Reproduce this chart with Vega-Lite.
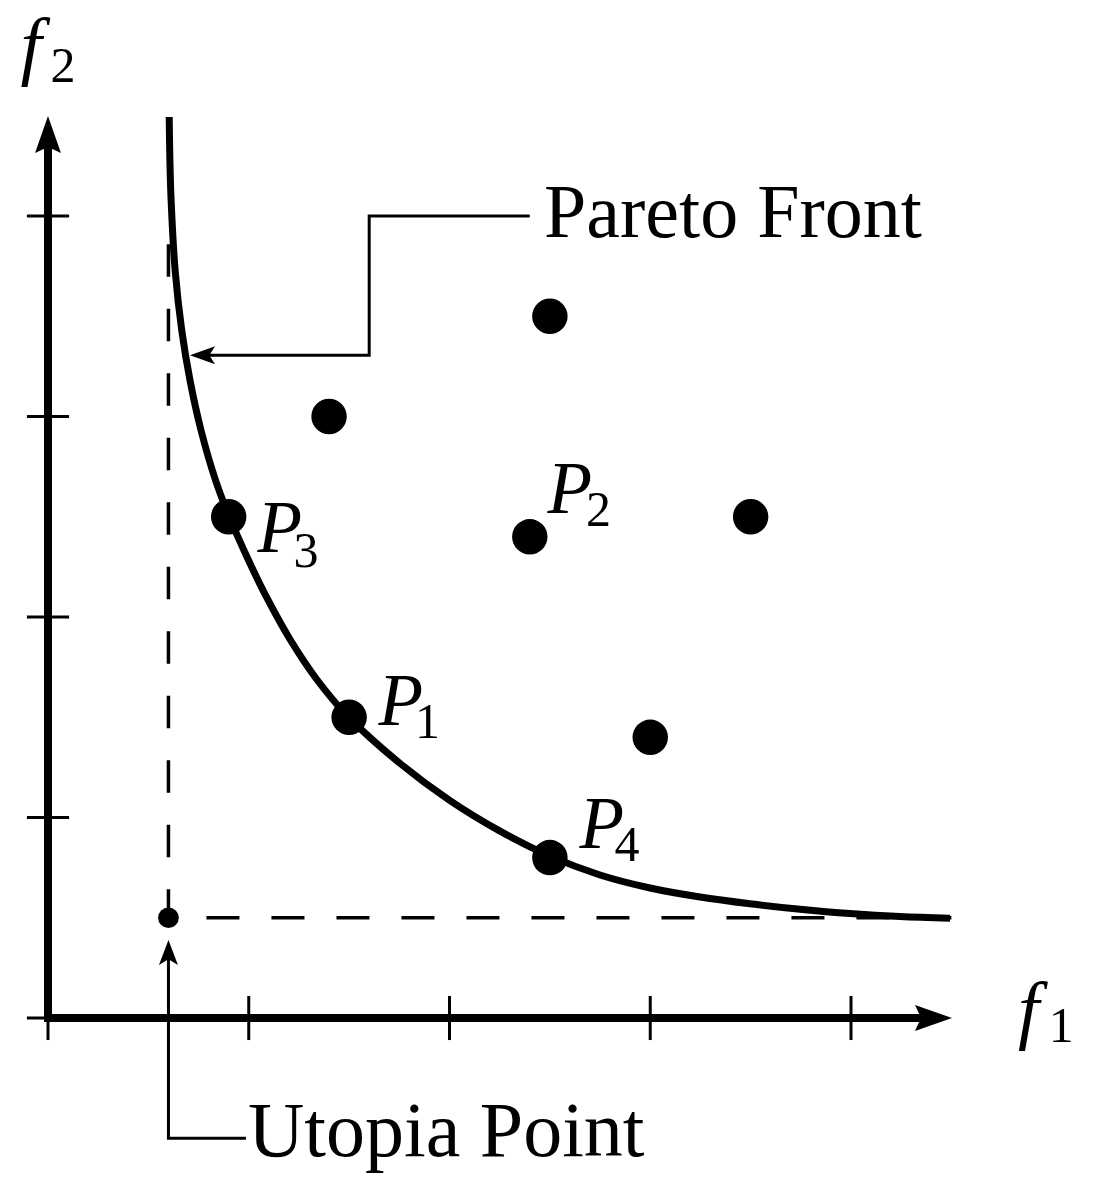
{
  "$schema": "https://vega.github.io/schema/vega-lite/v6.json",
  "width": 1095,
  "height": 1185,
  "autosize": "none",
  "padding": 0,
  "background": "white",
  "config": {"view": {"stroke": null}},
  "encoding": {
    "x": {"field": "x", "type": "quantitative", "scale": {"domain": [-0.2391, 5.2154], "nice": false, "zero": false}, "axis": null},
    "y": {"field": "y", "type": "quantitative", "scale": {"domain": [-0.8329, 5.0773], "nice": false, "zero": false}, "axis": null}
  },
  "layer": [
    {
      "data": {"values": [{"x": 0.6, "y": 0.5, "x2": 4.5}]},
      "mark": {"type": "rule", "strokeWidth": 3.5, "strokeDash": [33, 32], "strokeDashOffset": 27, "color": "black"},
      "encoding": {"x2": {"field": "x2"}}
    },
    {
      "data": {"values": [{"x": 0.6, "y": 0.5, "y2": 4.0}]},
      "mark": {"type": "rule", "strokeWidth": 3.5, "strokeDash": [32.5, 32], "strokeDashOffset": 4, "color": "black"},
      "encoding": {"y2": {"field": "y2"}}
    },
    {
      "data": {"values": [
        {"x": 0, "y": -0.11, "x2": 0, "y2": 0.11},
        {"x": 1, "y": -0.11, "x2": 1, "y2": 0.11},
        {"x": 2, "y": -0.11, "x2": 2, "y2": 0.11},
        {"x": 3, "y": -0.11, "x2": 3, "y2": 0.11},
        {"x": 4, "y": -0.11, "x2": 4, "y2": 0.11},
        {"x": -0.105, "y": 0, "x2": 0.105, "y2": 0},
        {"x": -0.105, "y": 1, "x2": 0.105, "y2": 1},
        {"x": -0.105, "y": 2, "x2": 0.105, "y2": 2},
        {"x": -0.105, "y": 3, "x2": 0.105, "y2": 3},
        {"x": -0.105, "y": 4, "x2": 0.105, "y2": 4}
      ]},
      "mark": {"type": "rule", "strokeWidth": 3, "color": "black"},
      "encoding": {"x2": {"field": "x2"}, "y2": {"field": "y2"}}
    },
    {
      "data": {"values": [
        {"x": 0, "y": 0, "x2": 0, "y2": 4.36},
        {"x": 0, "y": 0, "x2": 4.37, "y2": 0}
      ]},
      "mark": {"type": "rule", "strokeWidth": 8, "strokeCap": "square", "color": "black"},
      "encoding": {"x2": {"field": "x2"}, "y2": {"field": "y2"}}
    },
    {
      "data": {"values": [
        {"o": 1, "x": 0.6037, "y": 4.4938},
        {"o": 2, "x": 0.6072, "y": 4.2793},
        {"o": 3, "x": 0.6132, "y": 4.0798},
        {"o": 4, "x": 0.6331, "y": 3.7307},
        {"o": 5, "x": 0.666, "y": 3.4314},
        {"o": 6, "x": 0.7071, "y": 3.182},
        {"o": 7, "x": 0.7619, "y": 2.9327},
        {"o": 8, "x": 0.8341, "y": 2.6833},
        {"o": 9, "x": 0.9016, "y": 2.5037},
        {"o": 10, "x": 0.9983, "y": 2.2843},
        {"o": 11, "x": 1.0959, "y": 2.0848},
        {"o": 12, "x": 1.2075, "y": 1.8853},
        {"o": 13, "x": 1.341, "y": 1.6858},
        {"o": 14, "x": 1.4969, "y": 1.5012},
        {"o": 15, "x": 1.7534, "y": 1.2698},
        {"o": 16, "x": 2.0025, "y": 1.084},
        {"o": 17, "x": 2.2516, "y": 0.9319},
        {"o": 18, "x": 2.4956, "y": 0.8097},
        {"o": 19, "x": 2.7497, "y": 0.7132},
        {"o": 20, "x": 2.9988, "y": 0.6484},
        {"o": 21, "x": 3.2478, "y": 0.6035},
        {"o": 22, "x": 3.4969, "y": 0.5698},
        {"o": 23, "x": 3.746, "y": 0.5424},
        {"o": 24, "x": 3.995, "y": 0.5207},
        {"o": 25, "x": 4.2441, "y": 0.5057},
        {"o": 26, "x": 4.4932, "y": 0.4978}
      ]},
      "mark": {"type": "line", "interpolate": "catmull-rom", "strokeWidth": 7, "color": "black"},
      "encoding": {"order": {"field": "o", "type": "quantitative"}}
    },
    {
      "data": {"values": [
        {"g": "pareto", "o": 1, "x": 2.4, "y": 4.0},
        {"g": "pareto", "o": 2, "x": 1.6, "y": 4.0},
        {"g": "pareto", "o": 3, "x": 1.6, "y": 3.305},
        {"g": "pareto", "o": 4, "x": 0.78, "y": 3.305},
        {"g": "utopia", "o": 1, "x": 0.6, "y": 0.36},
        {"g": "utopia", "o": 2, "x": 0.6, "y": -0.6},
        {"g": "utopia", "o": 3, "x": 0.986, "y": -0.6}
      ]},
      "mark": {"type": "line", "strokeWidth": 3, "strokeJoin": "miter", "color": "black"},
      "encoding": {"detail": {"field": "g"}, "order": {"field": "o", "type": "quantitative"}}
    },
    {
      "data": {"values": [{"x": 0, "y": 4.4065}]},
      "mark": {"type": "point", "shape": "M0,-1L0.7,1L0,0.68L-0.7,1Z", "size": 1369, "filled": true, "opacity": 1, "color": "black", "strokeWidth": 0, "angle": 0},
      "encoding": {}
    },
    {
      "data": {"values": [{"x": 4.411, "y": 0}]},
      "mark": {"type": "point", "shape": "M0,-1L0.7,1L0,0.68L-0.7,1Z", "size": 1369, "filled": true, "opacity": 1, "color": "black", "strokeWidth": 0, "angle": 90},
      "encoding": {}
    },
    {
      "data": {"values": [{"x": 0.6, "y": 0.3267}]},
      "mark": {"type": "point", "shape": "M0,-1L0.76,1L0,0.55L-0.76,1Z", "size": 625, "filled": true, "opacity": 1, "color": "black", "strokeWidth": 0, "angle": 0},
      "encoding": {}
    },
    {
      "data": {"values": [{"x": 0.7696, "y": 3.305}]},
      "mark": {"type": "point", "shape": "M0,-1L0.72,1L0,0.55L-0.72,1Z", "size": 625, "filled": true, "opacity": 1, "color": "black", "strokeWidth": 0, "angle": 270},
      "encoding": {}
    },
    {
      "data": {"values": [
        {"x": 2.5, "y": 3.5},
        {"x": 1.4, "y": 3.0},
        {"x": 0.9, "y": 2.5},
        {"x": 2.4, "y": 2.4},
        {"x": 3.5, "y": 2.5},
        {"x": 1.5, "y": 1.5},
        {"x": 3.0, "y": 1.4},
        {"x": 2.5, "y": 0.8}
      ]},
      "mark": {"type": "point", "shape": "circle", "size": 1257, "filled": true, "opacity": 1, "color": "black", "strokeWidth": 0},
      "encoding": {}
    },
    {
      "data": {"values": [{"x": 0.6, "y": 0.5}]},
      "mark": {"type": "point", "shape": "circle", "size": 430, "filled": true, "opacity": 1, "color": "black", "strokeWidth": 0},
      "encoding": {}
    },
    {
      "data": {"values": [
        {"t": "f", "x": -0.1375, "y": 4.7212},
        {"t": "f", "x": 4.8319, "y": -0.0848}
      ]},
      "mark": {"type": "text", "font": "Liberation Serif", "fontStyle": "italic", "fontSize": 76, "align": "left", "baseline": "alphabetic", "color": "black"},
      "encoding": {"text": {"field": "t"}}
    },
    {
      "data": {"values": [
        {"t": "P", "x": 1.0441, "y": 2.3242},
        {"t": "P", "x": 2.4887, "y": 2.5187},
        {"t": "P", "x": 1.6468, "y": 1.4613},
        {"t": "P", "x": 2.6481, "y": 0.8479}
      ]},
      "mark": {"type": "text", "font": "Liberation Serif", "fontStyle": "italic", "fontSize": 73, "align": "left", "baseline": "alphabetic", "color": "black"},
      "encoding": {"text": {"field": "t"}}
    },
    {
      "data": {"values": [
        {"t": "2", "x": 0.012, "y": 4.6683},
        {"t": "1", "x": 4.985, "y": -0.1197},
        {"t": "3", "x": 1.2234, "y": 2.2494},
        {"t": "2", "x": 2.68, "y": 2.4539},
        {"t": "1", "x": 1.8281, "y": 1.3965},
        {"t": "4", "x": 2.8214, "y": 0.783}
      ]},
      "mark": {"type": "text", "font": "Liberation Serif", "fontSize": 50, "align": "left", "baseline": "alphabetic", "color": "black"},
      "encoding": {"text": {"field": "t"}}
    },
    {
      "data": {"values": [{"t": "Pareto Front", "x": 2.4707, "y": 3.8953}]},
      "mark": {"type": "text", "font": "Liberation Serif", "fontSize": 76, "align": "left", "baseline": "alphabetic", "color": "black"},
      "encoding": {"text": {"field": "t"}}
    },
    {
      "data": {"values": [{"t": "Utopia Point", "x": 0.9963, "y": -0.6883}]},
      "mark": {"type": "text", "font": "Liberation Serif", "fontSize": 78, "align": "left", "baseline": "alphabetic", "color": "black"},
      "encoding": {"text": {"field": "t"}}
    }
  ]
}
